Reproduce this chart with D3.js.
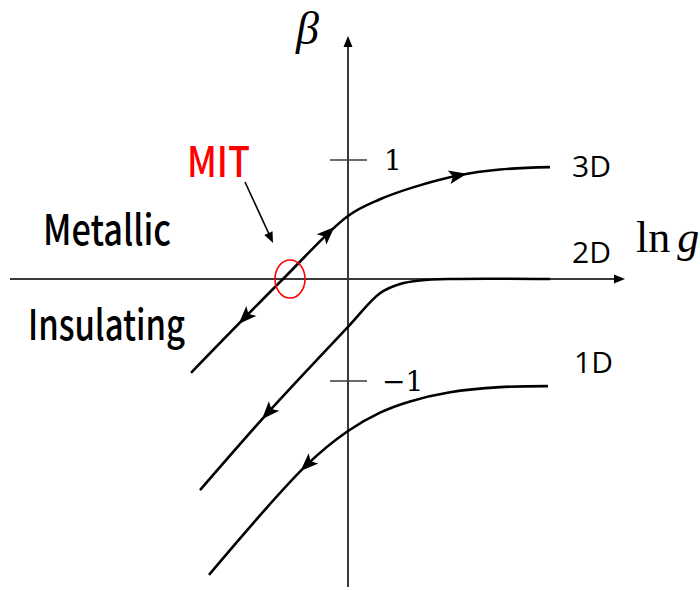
<!DOCTYPE html>
<html>
<head>
<meta charset="utf-8">
<script src="https://cdn.jsdelivr.net/npm/d3@7"></script>
<style>
  html, body { margin: 0; padding: 0; background: #fff; }
  svg { display: block; }
  .lbl { font-family: "Noto Sans CJK SC", "Open Sans", sans-serif; font-weight: 500; fill: #000; }
  .dim { font-family: "Open Sans", "Noto Sans", sans-serif; font-weight: 400; fill: #000; }
  .math { font-family: "Liberation Serif", "DejaVu Serif", serif; fill: #000; }
  .num { font-family: "DejaVu Serif", "Liberation Serif", serif; fill: #000; }
</style>
</head>
<body>
<svg id="chart" width="700" height="590"></svg>
<script>
// Scaling function beta(ln g) for d = 1, 2, 3
const dims = ["3D", "2D", "1D"];
const lnG3 = [-1.57, -0.65, 0.00, 0.32, 0.65, 1.10, 1.52, 2.02];
const beta3 = [-0.92, 0.00, 0.53, 0.67, 0.77, 0.87, 0.92, 0.94];
const lnG2 = [-1.48, -0.80, 0.00, 0.32, 0.52, 0.72, 1.02, 2.02];
const beta2 = [-2.07, -1.31, -0.47, -0.14, -0.05, -0.015, 0.00, 0.00];
const lnG1 = [-1.39, -0.41, 0.00, 0.32, 0.62, 1.02, 1.52, 2.00];
const beta1 = [-2.90, -1.82, -1.49, -1.31, -1.20, -1.11, -1.06, -1.05];
// flow arrows along each curve: ln g position and direction (+1 increasing g, -1 decreasing)
const arrows3 = [{ at: -1.03, dir: -1 }, { at: -0.20, dir: 1 }, { at: 1.10, dir: 1 }];
const arrows2 = [{ at: -0.80, dir: -1 }];
const arrows1 = [{ at: -0.41, dir: -1 }];
const tickValues = [1, -1];
const tickLabels = ["1", "\u22121"];
const mitPoint = { lnG: -0.62, beta: 0 };
const phaseLabels = ["Metallic", "Insulating"];

const svg = d3.select("#chart");
const x = d3.scaleLinear().domain([-3, 3]).range([48, 648]);
const y = d3.scaleLinear().domain([-1, 0, 1]).range([381, 279, 160]);

// axes
const axisColor = "#3a3a3a";
svg.append("line").attr("x1", 10).attr("x2", 616).attr("y1", y(0)).attr("y2", y(0))
  .attr("stroke", axisColor).attr("stroke-width", 2);
svg.append("path").attr("d", `M625,${y(0)} L614,${y(0) - 4.5} L614,${y(0) + 4.5} Z`).attr("fill", "#000");
svg.append("line").attr("x1", x(0)).attr("x2", x(0)).attr("y1", 587).attr("y2", 46)
  .attr("stroke", axisColor).attr("stroke-width", 2);
svg.append("path").attr("d", `M${x(0)},36 L${x(0) - 4.5},47 L${x(0) + 4.5},47 Z`).attr("fill", "#000");

// ticks and tick labels
const tickLabelX = [384, 382];
tickValues.forEach((v, i) => {
  svg.append("line").attr("x1", x(0) - 18).attr("x2", x(0) + 19)
    .attr("y1", y(v)).attr("y2", y(v)).attr("stroke", axisColor).attr("stroke-width", 1.6);
  svg.append("text").attr("class", "num").attr("x", tickLabelX[i]).attr("y", y(v) + 10)
    .attr("font-size", 28).text(tickLabels[i]);
});

// axis titles
svg.append("text").attr("class", "math").attr("x", 296).attr("y", 44)
  .attr("font-size", 46).attr("font-style", "italic").text("\u03b2");
const lng = svg.append("text").attr("class", "math").attr("x", 636).attr("y", 252).attr("font-size", 44);
lng.append("tspan").text("ln");
lng.append("tspan").attr("dx", 7).attr("font-style", "italic").text("g");

// curves
const line = d3.line().x(d => x(d[0])).y(d => y(d[1])).curve(d3.curveCatmullRom.alpha(0.5));
const series = [
  { name: dims[0], lnG: lnG3, beta: beta3, arrows: arrows3 },
  { name: dims[1], lnG: lnG2, beta: beta2, arrows: arrows2 },
  { name: dims[2], lnG: lnG1, beta: beta1, arrows: arrows1 }
];

series.forEach(s => {
  const pts = s.lnG.map((g, i) => [g, s.beta[i]]);
  const path = svg.append("path").attr("d", line(pts))
    .attr("fill", "none").attr("stroke", "#000").attr("stroke-width", 2.6);
  const node = path.node();
  const total = node.getTotalLength();
  s.arrows.forEach(a => {
    const px = x(a.at);
    let lo = 0, hi = total;
    for (let k = 0; k < 40; k++) {
      const mid = (lo + hi) / 2;
      if (node.getPointAtLength(mid).x < px) lo = mid; else hi = mid;
    }
    const p = node.getPointAtLength(lo);
    const q = node.getPointAtLength(Math.min(total, lo + 2));
    const r = node.getPointAtLength(Math.max(0, lo - 2));
    let ang = Math.atan2(q.y - r.y, q.x - r.x) * 180 / Math.PI;
    if (a.dir < 0) ang += 180;
    svg.append("path").attr("d", "M9,0 L-9,-7 L-5,0 L-9,7 Z")
      .attr("fill", "#000")
      .attr("transform", `translate(${p.x},${p.y}) rotate(${ang})`);
  });
});

// dimension labels
const dimLabelPos = [[572, 177], [572, 263], [574, 373]];
dims.forEach((d, i) => {
  svg.append("text").attr("class", "dim").attr("x", dimLabelPos[i][0]).attr("y", dimLabelPos[i][1])
    .attr("font-size", 30).text(d);
});

// phase labels
svg.append("text").attr("class", "lbl").attr("x", 43).attr("y", 245).attr("font-size", 42)
  .attr("textLength", 128).attr("lengthAdjust", "spacingAndGlyphs").text(phaseLabels[0]);
svg.append("text").attr("class", "lbl").attr("x", 28).attr("y", 340).attr("font-size", 42)
  .attr("textLength", 157).attr("lengthAdjust", "spacingAndGlyphs").text(phaseLabels[1]);

// metal-insulator transition marker
svg.append("ellipse").attr("cx", x(mitPoint.lnG) + 4).attr("cy", y(mitPoint.beta))
  .attr("rx", 15).attr("ry", 19).attr("fill", "none").attr("stroke", "#ff0000").attr("stroke-width", 1.6);
svg.append("text").attr("class", "lbl").attr("x", 187).attr("y", 177).attr("font-size", 42)
  .attr("textLength", 63).attr("lengthAdjust", "spacingAndGlyphs")
  .style("fill", "#ff0000").text("MIT");
svg.append("line").attr("x1", 245).attr("y1", 182).attr("x2", 269).attr("y2", 234)
  .attr("stroke", "#000").attr("stroke-width", 1.6);
svg.append("path").attr("d", "M0,0 L-11,-4.5 L-11,4.5 Z").attr("fill", "#000")
  .attr("transform", `translate(273,243) rotate(${Math.atan2(61, 28) * 180 / Math.PI})`);
</script>
</body>
</html>
